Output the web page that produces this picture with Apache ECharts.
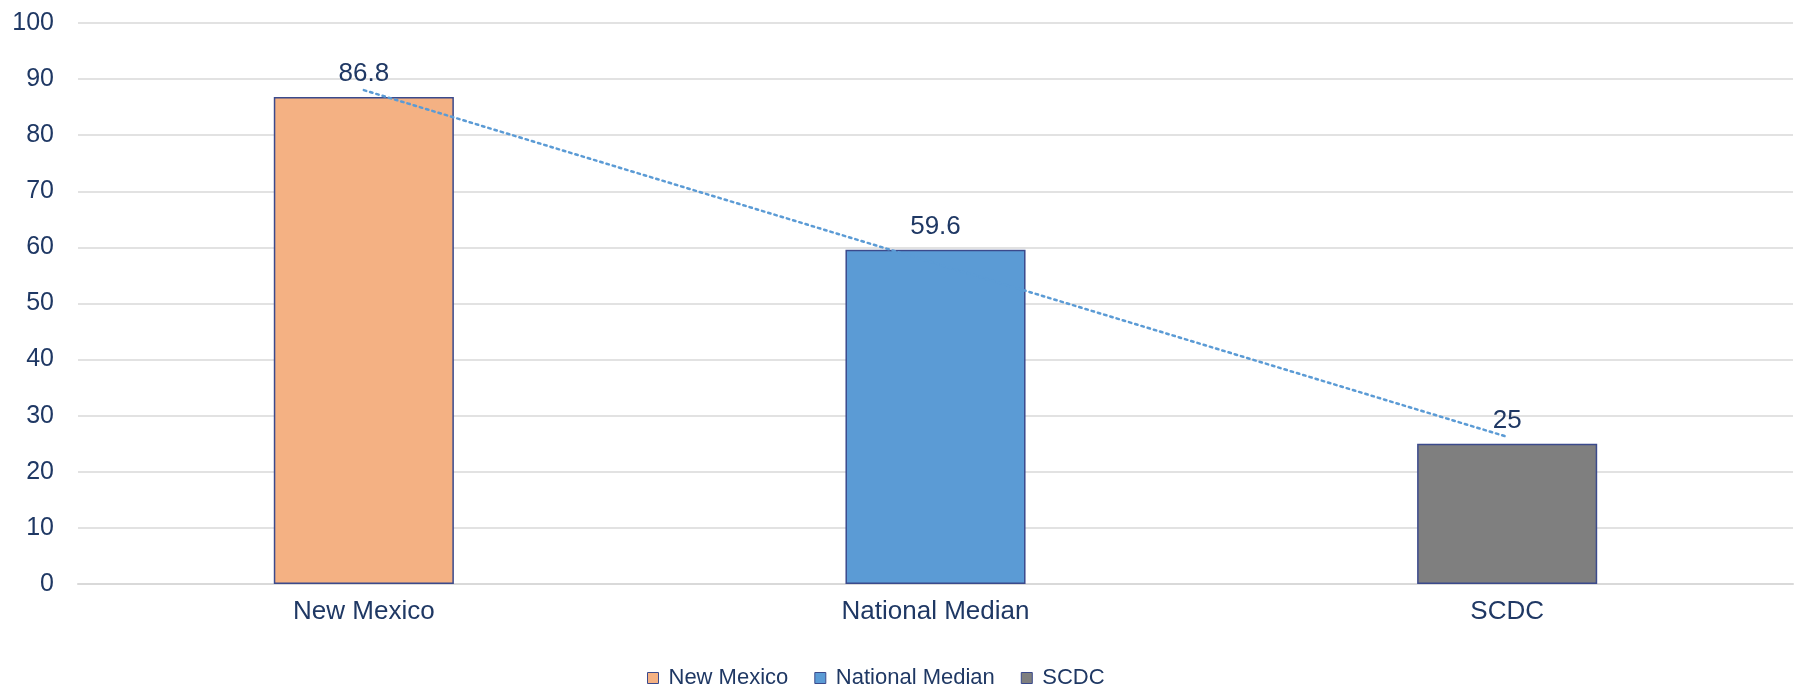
<!DOCTYPE html>
<html>
<head>
<meta charset="utf-8">
<script src="https://cdn.jsdelivr.net/npm/echarts@6/dist/echarts.min.js"></script>
<style>html,body{margin:0;padding:0;background:#fff;}#c{width:1795px;height:688px;}</style>
</head>
<body>
<div id="c"></div>
<script>
const categories = ['New Mexico', 'National Median', 'SCDC'];
const values = [86.8, 59.6, 25];
const colors = ['#F4B183', '#5B9BD5', '#7F7F7F'];
const yTicks = { min: 0, max: 100, interval: 10 };

// Linear trendline (least squares) over category positions 1..n
const n = values.length;
const xs = values.map((_, i) => i + 1);
const mx = xs.reduce((a, b) => a + b, 0) / n;
const my = values.reduce((a, b) => a + b, 0) / n;
let sxy = 0, sxx = 0;
for (let i = 0; i < n; i++) { sxy += (xs[i] - mx) * (values[i] - my); sxx += (xs[i] - mx) ** 2; }
const slope = sxy / sxx, icpt = my - slope * mx;
const trend = xs.map(x => +(icpt + slope * x).toFixed(3));

const textColor = '#1F3864';
const font = 'Liberation Sans, Arial, sans-serif';

const barSeries = categories.map((name, i) => ({
  name: name,
  type: 'bar',
  stack: 'bars',
  barWidth: '31.5%',
  data: values.map((v, j) => (j === i ? v : null)),
  itemStyle: { color: colors[i], borderColor: '#3B4A8C', borderWidth: 1.5 },
  label: { show: true, position: 'top', distance: 10, color: textColor, fontSize: 26, fontFamily: font },
  z: 2
}));

const chart = echarts.init(document.getElementById('c'));
chart.setOption({
  animation: false,
  grid: { left: 78, right: 2, top: 23, bottom: 104, containLabel: false },
  legend: {
    data: categories,
    top: 662,
    left: 642,
    icon: 'rect',
    itemWidth: 11,
    itemHeight: 11,
    itemGap: 26,
    itemStyle: { borderColor: '#3B4A8C', borderWidth: 1 },
    textStyle: { color: textColor, fontSize: 22, fontFamily: font, padding: [0, 0, 0, 5] }
  },
  xAxis: {
    type: 'category',
    data: categories,
    axisLine: { show: true, lineStyle: { color: '#D9D9D9', width: 2 } },
    axisTick: { show: false },
    axisLabel: { color: textColor, fontSize: 26, fontFamily: font, margin: 15 }
  },
  yAxis: {
    type: 'value',
    min: yTicks.min, max: yTicks.max, interval: yTicks.interval,
    axisLine: { show: false },
    axisTick: { show: false },
    splitLine: { lineStyle: { color: '#D9D9D9', width: 1.5 } },
    axisLabel: { color: textColor, fontSize: 25, fontFamily: font, margin: 24 }
  },
  series: barSeries.concat([{
    name: 'Trend',
    type: 'line',
    data: trend,
    symbol: 'none',
    lineStyle: { color: '#5B9BD5', width: 2.5, type: [2.5, 4], cap: 'round' },
    z: 3,
    silent: true
  }])
});
</script>
</body>
</html>
